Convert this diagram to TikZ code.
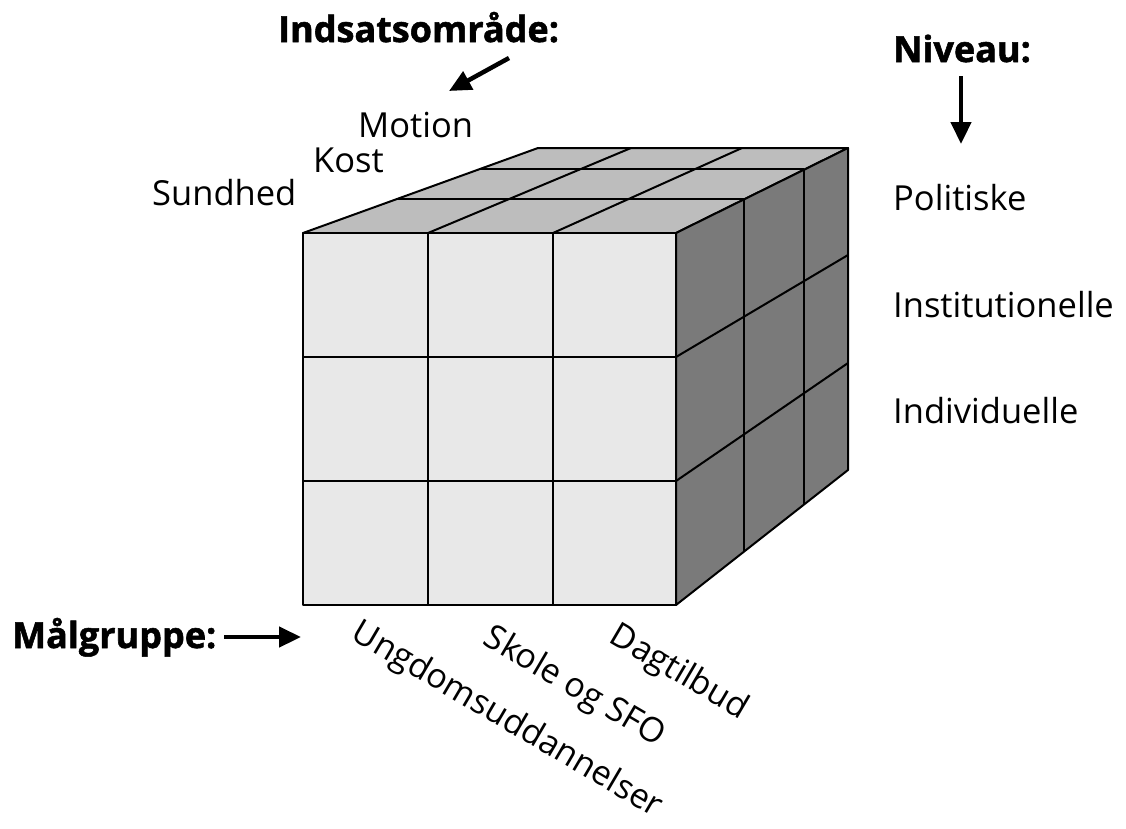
\documentclass[tikz,border=0pt]{standalone}
\usepackage{fontspec}
\setmainfont{Open Sans}[BoldFeatures={FakeBold=1.5}]
\usetikzlibrary{arrows.meta}
\definecolor{frontc}{gray}{0.91}
\definecolor{topc}{gray}{0.74}
\definecolor{sidec}{gray}{0.48}
\begin{document}
\begin{tikzpicture}[x=1pt,y=-1pt,
  edge/.style={line width=2pt, line join=round, draw=black},
  lbl/.style={inner sep=0pt, font=\fontsize{34.5}{40}\selectfont},
  rlbl/.style={inner sep=0pt, font=\fontsize{34}{40}\selectfont, anchor=north west, rotate=-30.5},
  ttl/.style={inner sep=0pt, font=\fontsize{36}{40}\selectfont\bfseries},
  pointer/.style={line width=4.5pt, -{Triangle[length=22pt,width=20pt]}}]
\useasboundingbox (0,0) rectangle (1126,828);

% ---- top face
\filldraw[edge, fill=topc] (303,233) -- (676,233) -- (848,148) -- (538,148) -- cycle;
\draw[edge] (397,199) -- (744,199);
\draw[edge] (480,169) -- (804,169);
\draw[edge] (428,233) -- (631,148);
\draw[edge] (553,233) -- (742,148);

% ---- right face
\filldraw[edge, fill=sidec] (676,233) -- (848,148) -- (848,470) -- (676,605) -- cycle;
\draw[edge] (744,199) -- (744,552);
\draw[edge] (804,169) -- (804,505);
\draw[edge] (676,357) -- (848,255);
\draw[edge] (676,481) -- (848,363);

% ---- front face
\filldraw[edge, fill=frontc] (303,233) rectangle (676,605);
\draw[edge] (428,233) -- (428,605);
\draw[edge] (553,233) -- (553,605);
\draw[edge] (303,357) -- (676,357);
\draw[edge] (303,481) -- (676,481);

% ---- labels
\node[ttl, anchor=base west] (ind) at (278,42) {Indsatsområde:};
\node[lbl, anchor=base west] (motion) at (358,137) {Motion};
\node[lbl, anchor=base west] (kost) at (313,172) {Kost};
\node[lbl, anchor=base west] (sund) at (152,205) {Sundhed};

\node[ttl, anchor=base west] (niv) at (893,62) {Niveau:};
\node[lbl, anchor=base west] (pol) at (893,210) {Politiske};
\node[lbl, anchor=base west] (inst) at (893,317) {Institutionelle};
\node[lbl, anchor=base west] (indiv) at (893,423) {Individuelle};

\node[ttl, anchor=base west] (mal) at (12,648) {Målgruppe:};
\node[rlbl] (ung) at (363,616) {Ungdomsuddannelser};
\node[rlbl] (skole) at (495,621) {Skole og SFO};
\node[rlbl] (dag) at (621,619) {Dagtilbud};

% ---- arrows
\coordinate (a1s) at (509,58);
\coordinate (a1e) at (449,91);
\coordinate (a2s) at (961,76);
\coordinate (a2e) at (961,144);
\coordinate (a3s) at (224,637);
\coordinate (a3e) at (301,637);
\draw[pointer] (a1s) -- (a1e);
\draw[pointer] (a2s) -- (a2e);
\draw[pointer] (a3s) -- (a3e);
\end{tikzpicture}
\end{document}
